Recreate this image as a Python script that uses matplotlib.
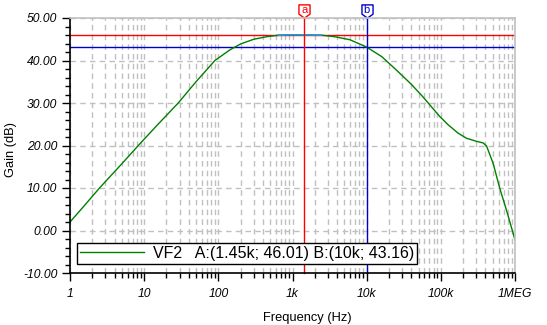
import matplotlib
matplotlib.use("Agg")
import matplotlib.pyplot as plt
import matplotlib.transforms as mtransforms
from matplotlib.path import Path
from matplotlib.ticker import FixedLocator, LogLocator, NullFormatter, MultipleLocator
import numpy as np

plt.rcParams['font.family'] = ['Liberation Sans', 'DejaVu Sans']

# gain curve
freq = [1, 1.5, 2.5, 5, 8.34, 15, 28.8, 50, 90, 143, 200, 300, 450, 650,
        1000, 1450, 2450, 3700, 5900, 10000, 16000, 25000, 40000, 57000,
        97000, 125000, 171000, 222000, 300000, 372000, 413000, 507000,
        624000, 767000, 1000000]
gain = [2.0, 5.5, 10.0, 15.7, 20.0, 24.8, 30.0, 35.0, 40.0, 42.5, 43.9, 45.0,
        45.6, 45.95, 46.05, 46.01, 45.95, 45.6, 44.9, 43.16, 40.9, 37.8, 34.4,
        31.5, 26.8, 24.9, 22.9, 21.7, 21.0, 20.6, 19.9, 15.8, 9.9, 4.8, -2.2]

cursor_a = (1450, 46.01)
cursor_b = (10000, 43.16)
highlight_range = (650, 2450)

xticks = [1, 10, 100, 1e3, 1e4, 1e5, 1e6]
xticklabels = ['1', '10', '100', '1k', '10k', '100k', '1MEG']
yticks = [-10, 0, 10, 20, 30, 40, 50]

fig = plt.figure(figsize=(5.47, 3.25), dpi=100)
ax = fig.add_axes([70/547, 1-273/325, 445/547, 255/325])

ax.set_xscale('log')
ax.set_xlim(1, 1e6)
ax.set_ylim(-10, 50)

grid_c = '#c0c0c0'
ax.xaxis.set_major_locator(FixedLocator(xticks))
ax.xaxis.set_minor_locator(LogLocator(base=10, subs=np.arange(2, 10)))
ax.xaxis.set_minor_formatter(NullFormatter())
ax.set_xticklabels(xticklabels)
ax.set_yticks(yticks)
ax.set_yticklabels(['%.2f' % v for v in yticks])
ax.yaxis.set_minor_locator(MultipleLocator(2))

ax.grid(True, which='major', axis='both', color=grid_c, ls=(0, (4, 3)), lw=1)
ax.grid(True, which='minor', axis='x', color=grid_c, ls=(0, (4, 3)), lw=1)
ax.set_axisbelow(True)

for s in ['top', 'right']:
    ax.spines[s].set_color(grid_c)
    ax.spines[s].set_linewidth(1.2)
for s in ['left', 'bottom']:
    ax.spines[s].set_color('black')
    ax.spines[s].set_linewidth(1.2)

ax.tick_params(which='major', direction='out', length=6, width=1, colors='black')
ax.tick_params(which='minor', direction='out', length=3.5, width=1, colors='black')
ax.tick_params(axis='y', which='major', pad=3)
ax.tick_params(axis='x', which='major', pad=4.5)
for lab in ax.get_xticklabels() + ax.get_yticklabels():
    lab.set_fontstyle('italic')
    lab.set_fontsize(8.7)

# cursor lines
ax.axhline(cursor_a[1], color='red', lw=1)
ax.axhline(cursor_b[1], color='#0000cc', lw=1)

line, = ax.plot(freq, gain, color='#008000', lw=1, label='VF2   A:(1.45k; 46.01) B:(10k; 43.16)')
f_arr = np.array(freq)
g_arr = np.array(gain)
m = (f_arr >= highlight_range[0]) & (f_arr <= highlight_range[1])
ax.plot(f_arr[m], g_arr[m], color='#3090e0', lw=1.2)

trans = mtransforms.blended_transform_factory(ax.transData, ax.transAxes)
tag = Path([(-0.42, 0.5), (0.42, 0.5), (0.42, -0.2), (0, -0.5), (-0.42, -0.2), (-0.42, 0.5)],
           [Path.MOVETO, Path.LINETO, Path.LINETO, Path.LINETO, Path.LINETO, Path.CLOSEPOLY])
for (cx, _), col, name in [(cursor_a, 'red', 'a'), (cursor_b, '#0000cc', 'b')]:
    ax.plot([cx, cx], [0, 1.01], color=col, lw=1, transform=trans, clip_on=False)
    ax.plot([cx], [1.028], marker=tag, markersize=9.5, mfc='white', mec=col, mew=1,
            transform=trans, clip_on=False)
    ax.text(cx, 1.032, name, color=col, fontsize=8, ha='center', va='center',
            transform=trans, clip_on=False)

leg = ax.legend(handles=[line], loc='lower left', bbox_to_anchor=(0.0157, 0.035),
                borderaxespad=0, fontsize=11.5, handlelength=4.0, handletextpad=0.55,
                borderpad=0.2, fancybox=False, framealpha=1, edgecolor='black')
leg.get_frame().set_linewidth(1)

ax.set_xlabel('Frequency (Hz)', fontsize=9.3)
ax.xaxis.set_label_coords((307.5-70)/445, -(312-273)/255)
ax.set_ylabel('Gain (dB)', fontsize=9.3)
ax.yaxis.set_label_coords(-(70-17)/445, 0.485)

fig.savefig('out.png', dpi=100)
